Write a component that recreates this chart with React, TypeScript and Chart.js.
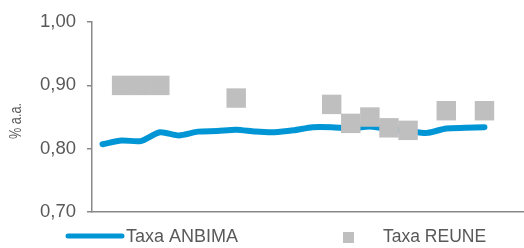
import React, { useEffect, useRef } from "react";
import { Chart, registerables } from "chart.js";

Chart.register(...registerables);

// Data (21 periods)
const periods: number[] = [0, 1, 2, 3, 4, 5, 6, 7, 8, 9, 10, 11, 12, 13, 14, 15, 16, 17, 18, 19, 20];
const taxaAnbima: number[] = [
  0.807, 0.813, 0.812, 0.826, 0.821, 0.827, 0.828, 0.830, 0.827, 0.826,
  0.829, 0.834, 0.834, 0.832, 0.835, 0.831, 0.828, 0.825, 0.832, 0.833, 0.834,
];
const taxaReune: (number | null)[] = [
  null, 0.90, 0.90, 0.90, null, null, null, 0.88, null, null,
  null, null, 0.87, 0.84, 0.85, 0.833, 0.829, null, 0.86, null, 0.86,
];
const yTicks: number[] = [0.7, 0.8, 0.9, 1.0];
const seriesNames: string[] = ["Taxa ANBIMA", "Taxa REUNE"];
const yTitle = "% a.a.";

const BLUE = "#0096D6";
const GRAY = "#BFBFBF";
const AXIS = "#898989";
const TEXT = "#595959";
const FONT = "'Liberation Sans', Arial, sans-serif";

const decorPlugin = {
  id: "decor",
  afterDraw(chart: any) {
    const ctx = chart.ctx as CanvasRenderingContext2D;
    ctx.save();
    // y-axis title (narrow, rotated)
    ctx.save();
    ctx.font = `17px ${FONT}`;
    ctx.fillStyle = TEXT;
    ctx.textAlign = "center";
    ctx.textBaseline = "middle";
    const w = ctx.measureText(yTitle).width;
    ctx.translate(16, 121);
    ctx.rotate(-Math.PI / 2);
    ctx.scale(36 / w, 1);
    ctx.fillText(yTitle, 0, 0);
    ctx.restore();

    const y = 237;
    // legend: line item
    ctx.strokeStyle = BLUE;
    ctx.lineWidth = 5;
    ctx.lineCap = "round";
    ctx.beginPath();
    ctx.moveTo(68, y - 1);
    ctx.lineTo(122, y - 1);
    ctx.stroke();
    ctx.fillStyle = TEXT;
    ctx.font = `18px ${FONT}`;
    ctx.textBaseline = "middle";
    ctx.textAlign = "left";
    ctx.fillText(seriesNames[0], 126, y);
    // legend: square item
    ctx.fillStyle = GRAY;
    ctx.fillRect(343, y - 5, 11, 11);
    ctx.fillStyle = TEXT;
    ctx.font = `17.5px ${FONT}`;
    ctx.fillText(seriesNames[1], 383, y);
    ctx.restore();
  },
};

export default function App() {
  const ref = useRef<HTMLCanvasElement>(null);
  useEffect(() => {
    if (!ref.current) return;
    const chart = new Chart(ref.current, {
      type: "line",
      data: {
        datasets: [
          {
            label: seriesNames[0],
            data: periods.map((p, i) => ({ x: p, y: taxaAnbima[i] })),
            borderColor: BLUE,
            backgroundColor: BLUE,
            borderWidth: 6,
            borderCapStyle: "round",
            borderJoinStyle: "round",
            pointRadius: 0,
            tension: 0.25,
            order: 1,
          },
          {
            label: seriesNames[1],
            data: periods.map((p, i) => ({ x: p, y: taxaReune[i] })),
            showLine: false,
            pointStyle: "rect",
            pointRadius: 13.75,
            pointBorderWidth: 0,
            borderWidth: 0,
            backgroundColor: GRAY,
            borderColor: GRAY,
            order: 0,
          },
        ],
      },
      options: {
        animation: false,
        responsive: false,
        maintainAspectRatio: false,
        layout: { autoPadding: false, padding: { top: 16, bottom: 36, left: 0, right: 0 } },
        plugins: { legend: { display: false }, tooltip: { enabled: false } },
        scales: {
          x: {
            type: "linear",
            min: -0.55,
            max: 22.07,
            ticks: { display: false },
            grid: { display: true, drawOnChartArea: false, drawTicks: false },
            border: { color: AXIS, width: 1.5 },
          },
          y: {
            min: 0.7,
            max: 1.0,
            afterBuildTicks: (scale: any) => {
              scale.ticks = yTicks.map((v) => ({ value: v }));
            },
            afterFit: (scale: any) => {
              scale.width = 92;
            },
            ticks: {
              padding: 11,
              color: TEXT,
              font: { family: FONT, size: 18.5 },
              callback: (v: any) => Number(v).toFixed(2).replace(".", ","),
            },
            grid: {
              drawOnChartArea: false,
              drawTicks: true,
              tickLength: 5,
              color: AXIS,
              lineWidth: 1.5,
            },
            border: { color: AXIS, width: 1.5 },
          },
        },
      },
      plugins: [decorPlugin],
    });
    return () => chart.destroy();
  }, []);
  return (
    <div style={{ position: "fixed", left: 0, top: 0, width: 524, height: 248, background: "#fff" }}>
      <canvas ref={ref} width={524} height={248} style={{ width: 524, height: 248 }} />
    </div>
  );
}
